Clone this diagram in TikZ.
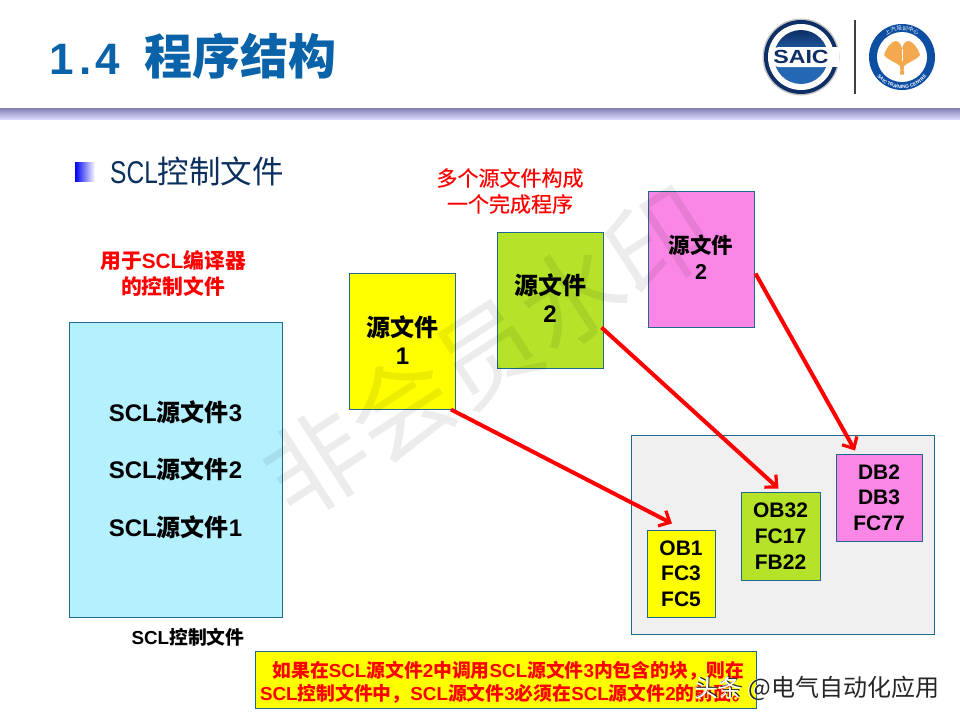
\documentclass[tikz,border=0pt]{standalone}
\usepackage{fontspec}
\setmainfont{Liberation Sans}
\newfontfamily\cjk{Noto Sans CJK SC}
\newfontfamily\cjkm[FakeBold=0.35]{Noto Sans CJK SC}
\usetikzlibrary{arrows.meta,shapes.geometric,decorations.text,calc}
\newcommand\Z[1]{{\cjk #1}}
\newcommand\fs[2]{\fontsize{#1}{#2}\selectfont}
\newcommand\lift[1]{\rule[-#1pt]{0pt}{#1pt}}
\definecolor{titleblue}{HTML}{0A62A8}
\definecolor{headnavy}{HTML}{0B2F5E}
\definecolor{edgeteal}{HTML}{1F6A8C}
\definecolor{lightblue}{HTML}{B5F0FF}
\definecolor{pureyellow}{HTML}{FFFF00}
\definecolor{srcgreen}{HTML}{B5E32A}
\definecolor{srcpink}{HTML}{FA87E6}
\definecolor{panelgray}{HTML}{F0F0F0}
\definecolor{bandtop}{HTML}{8480B4}
\definecolor{bandbottom}{HTML}{DAD8FA}
\definecolor{saicnavy}{HTML}{0E2F66}
\definecolor{saicblue}{HTML}{2468B4}
\definecolor{trainblue}{HTML}{0B4EA2}
\definecolor{leaforange}{HTML}{F4A94E}
\tikzset{
  box/.style={draw=edgeteal,line width=1pt,inner sep=0pt,align=center,anchor=center},
  srcbox/.style={box,minimum width=106pt,minimum height=136pt,font=\fs{24}{28}\bfseries},
  blockbox/.style={box,font=\fs{21}{25.7}\bfseries},
  redlabel/.style={text=red,align=center,inner sep=0pt},
  flow/.style={draw=red,line width=4pt,-{Straight Barb[length=9pt,width=17pt,line width=3.2pt]}},
}
\begin{document}
\begin{tikzpicture}[x=1pt,y=-1pt]
\useasboundingbox (0,0) rectangle (960,720);
\fill[white] (0,0) rectangle (960,720);
% header
\node[anchor=west,inner sep=0pt,text=titleblue,font=\fs{44}{50}\bfseries] (title) at (49,56)
  {1\kern6pt.\kern4pt4\kern24pt\Z{\fontsize{48}{50}\selectfont 程序结构}};
\shade[top color=bandtop,bottom color=bandbottom,draw=none] (0,108) rectangle (960,119);
% bullet + heading
\shade[left color=blue!95!black,right color=white,draw=none] (75,162) rectangle (95,181);
\node[anchor=west,inner sep=0pt,text=headnavy,font=\fs{31.5}{34}] (head) at (110,171)
  {\scalebox{.78}[1]{SCL}\Z{控制文件}};
% logos
\begin{scope}[shift={(801,57)},y=1pt]
  \fill[gray!45] (0,0) circle (38.5);
  \fill[saicnavy] (0,0) circle (37);
  \fill[white] (0,0) circle (33);
  \shade[top color=saicnavy,bottom color=saicblue,middle color=saicblue] (0,0) circle (27);
  \fill[white,rounded corners=8pt] (-30,-10) rectangle (30,10);
  \fill[white] (20,-10) rectangle (38,10);
  \node[inner sep=0pt,text=saicnavy,font=\fs{19}{20}\bfseries,xscale=1.22] (saic) at (0,0) {SAIC};
\end{scope}
\fill[black!75] (854,20) rectangle (856,94);
\begin{scope}[shift={(902,57)},y=1pt]
  \fill[trainblue] (0,0) circle (33);
  \fill[white] (0,0) circle (25);
  \path[postaction={decorate,decoration={text along path,text align=center,
     text={|\cjk\fs{5.5}{6}\color{white}|上汽培训中心}}}]
     (150:26.5) arc (150:30:26.5);
  \path[postaction={decorate,decoration={text along path,text align=center,
     text={|\fs{4.8}{6}\bfseries\color{white}|SAIC TRAINING CENTRE}}}]
     (205:31.5) arc (205:335:31.5);
  \fill[leaforange] (0,8) .. controls (-1,14) and (-4,16) .. (-7,16)
     .. controls (-11,15) and (-16,9) .. (-18,2)
     .. controls (-15,-3) and (-6,-5) .. (-2,-9)
     .. controls (-1.5,-12) and (-1.5,-15) .. (-2.2,-17.5)
     -- (2.2,-17.5)
     .. controls (1.5,-15) and (1.5,-12) .. (2,-9)
     .. controls (6,-5) and (15,-3) .. (18,2)
     .. controls (16,9) and (11,15) .. (7,16)
     .. controls (4,16) and (1,14) .. (0,8) -- cycle;
  \draw[white,line width=.5pt] (0,8) -- (0,-4);
\end{scope}
% labels
\node[redlabel,font=\fs{21}{26}] (multi) at (510,191) {{\cjkm 多个源文件构成}\\{\cjkm 一个完成程序}};
\node[redlabel,font=\fs{20.8}{26}] (usage) at (173,273) {\textbf{\Z{用于}SCL\Z{编译器}}\\\textbf{\Z{的控制文件}}};
% left box
\node[box,fill=lightblue,minimum width=213pt,minimum height=295pt,font=\fs{24}{57.5}\bfseries] (ctrl) at (175.5,469.5)
  {SCL\Z{源文件}3\\SCL\Z{源文件}2\\SCL\Z{源文件}1};
\node[inner sep=0pt,font=\fs{18.8}{20}\bfseries] (ctrlcap) at (188,637) {SCL\Z{控制文件}};
% panel
\node[box,fill=panelgray,minimum width=303pt,minimum height=199pt] (panel) at (782.5,535) {};
% source boxes
\node[srcbox,fill=pureyellow] (srcA) at (402.5,341) {\Z{源文件}\\1\lift{1}};
\node[srcbox,fill=srcgreen] (srcB) at (550,300) {\Z{源文件}\\2\lift{3}};
\node[srcbox,fill=srcpink,font=\fs{21.5}{26}\bfseries] (srcC) at (701,259) {\Z{源文件}\\2\lift{3}};
% block boxes
\node[blockbox,fill=pureyellow,minimum width=68pt,minimum height=87pt] (obA) at (681,573.5) {OB1\\FC3\\FC5};
\node[blockbox,fill=srcgreen,minimum width=79pt,minimum height=88pt] (obB) at (780.5,536) {OB32\\FC17\\FB22};
\node[blockbox,fill=srcpink,minimum width=86pt,minimum height=87pt] (dbC) at (879,497.5) {DB2\\DB3\\FC77};
% connectors
\draw[flow] ([xshift=-5pt]srcA.south east) -- ([xshift=-9pt,yshift=6pt]obA.north);
\draw[flow] ([yshift=41pt,xshift=-2pt]srcB.south east) -- ([xshift=-2pt,yshift=3pt]obB.north);
\draw[flow] ([yshift=54pt,xshift=1pt]srcC.south east) -- ([xshift=-24pt,yshift=3pt]dbC.north);
% note
\node[box,fill=pureyellow,minimum width=501pt,minimum height=57pt,text=red,font=\fs{18.8}{23}\bfseries] (note) at (505.5,679.5)
  {\rule{0pt}{21pt}\hspace*{6pt}\Z{如果在}SCL\Z{源文件}2\Z{中调用}SCL\Z{源文件}3\Z{内包含的块，则在}\\
   SCL\Z{控制文件中，}SCL\Z{源文件}3\Z{必须在}SCL\Z{源文件}2\Z{的前面。}};
% diagonal watermark
\node[rotate=33,inner sep=0pt,text=black,opacity=.075,font=\cjk\fs{102}{110}] (wm) at (487,352) {非会员水印};
% site watermark
\node[anchor=west,inner sep=0pt,text=white,font=\cjk\fs{24}{26}] (sitec) at (694,688) {头条 @电气自动化应用};
\node[anchor=west,inner sep=0pt,text=black!85,font=\cjk\fs{24}{26}] (sitea) at (695.2,688.8) {头条 @电气自动化应用};
\node[anchor=west,inner sep=0pt,text=white,font=\cjk\fs{24}{26}] (siteb) at (694,688) {头条};
\end{tikzpicture}
\end{document}
